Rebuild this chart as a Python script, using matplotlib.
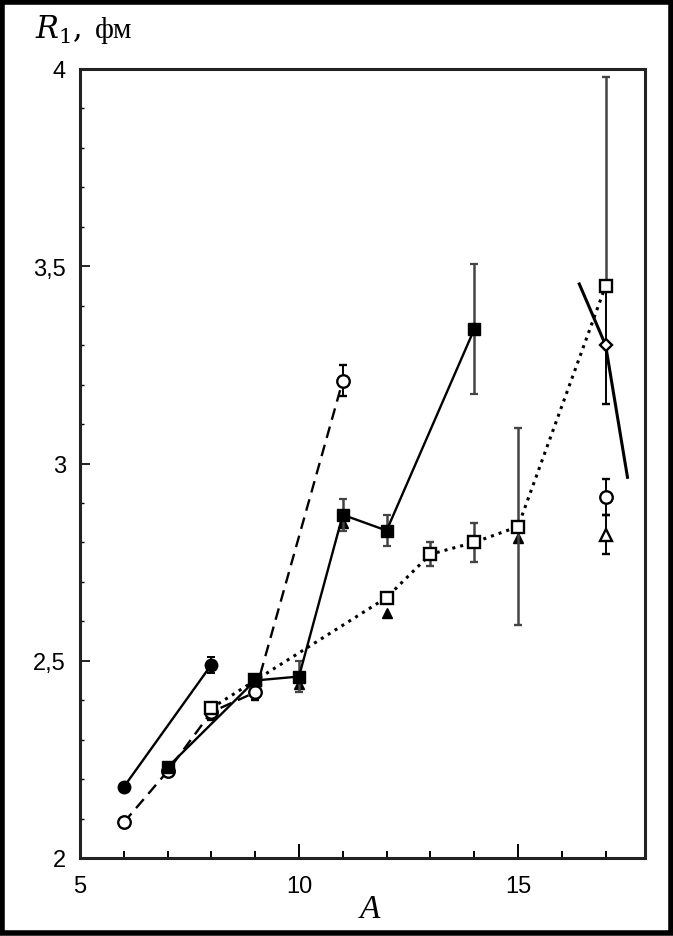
import matplotlib
matplotlib.use("Agg")
import matplotlib.pyplot as plt
from matplotlib.ticker import MultipleLocator, FuncFormatter
from matplotlib.patches import Rectangle

# ---- data ----
# filled circles, solid line
he_A = [6, 8]
he_R = [2.18, 2.49]
he_err = [0.0, 0.02]

# open circles, dashed line
li_A = [6, 7, 8, 9, 11]
li_R = [2.09, 2.22, 2.37, 2.42, 3.21]
li_err = [0.0, 0.0, 0.02, 0.02, 0.04]

# filled squares, solid line
be_A = [7, 9, 10, 11, 12, 14]
be_R = [2.23, 2.45, 2.46, 2.87, 2.83, 3.34]
be_err = [0.0, 0.0, 0.04, 0.04, 0.04, 0.165]

# open squares, dotted line
b_A = [8, 9, 12, 13, 14, 15, 17]
b_R = [2.38, 2.45, 2.66, 2.77, 2.80, 2.84, 3.45]
b_err_lo = [0.0, 0.0, 0.0, 0.03, 0.05, 0.25, 0.0]
b_err_hi = [0.0, 0.0, 0.0, 0.03, 0.05, 0.25, 0.53]

# filled triangles (no line)
tri_A = [8, 10, 11, 12, 15]
tri_R = [2.37, 2.44, 2.85, 2.62, 2.81]

# solid line with open diamond near A = 17
line17_A = [16.4, 17, 17.5]
line17_R = [3.455, 3.30, 2.965]
dia_A = [17]
dia_R = [3.30]
dia_err = [0.15]

# open circle and open triangle at A = 17
oc17_A = [17]
oc17_R = [2.915]
oc17_err = [0.045]
ot17_A = [17]
ot17_R = [2.82]
ot17_err = [0.05]

# ---- figure ----
W, H = 673, 937
fig = plt.figure(figsize=(W / 100, H / 100), dpi=100)
ax = fig.add_axes([80 / W, 1 - 859 / H, (645 - 80) / W, (859 - 70) / H])

ms = 9
eb = dict(ecolor='black', elinewidth=1.4, capsize=3, capthick=1.4)

ax.errorbar(he_A, he_R, yerr=he_err, fmt='o-', color='black', ms=ms,
            lw=1.7, **eb, zorder=4)
ax.errorbar(li_A, li_R, yerr=li_err, fmt='o--', color='black', ms=ms,
            mfc='white', mew=1.7, lw=1.7, dashes=(5, 3), **eb, zorder=3)
ax.errorbar(be_A, be_R, yerr=be_err, fmt='s-', color='black', ms=ms,
            lw=1.7, ecolor='#444444', elinewidth=1.8, capsize=3, capthick=1.6,
            zorder=5)
ax.errorbar(b_A, b_R, yerr=[b_err_lo, b_err_hi], fmt='s:', color='black',
            ms=ms, mfc='white', mew=1.7, lw=2.2, ecolor='#444444',
            elinewidth=1.8, capsize=3, capthick=1.6, zorder=4)
ax.plot(tri_A, tri_R, '^', color='black', ms=7, zorder=3)
ax.plot(line17_A, line17_R, '-', color='black', lw=2.2, zorder=3)
ax.errorbar(dia_A, dia_R, yerr=dia_err, fmt='D', color='black', ms=6,
            mfc='white', mew=1.7, **eb, zorder=4)
ax.errorbar(oc17_A, oc17_R, yerr=oc17_err, fmt='o', color='black', ms=ms,
            mfc='white', mew=1.7, **eb, zorder=4)
ax.errorbar(ot17_A, ot17_R, yerr=ot17_err, fmt='^', color='black', ms=ms,
            mfc='white', mew=1.7, **eb, zorder=4)

ax.set_xlim(5, 17.9)
ax.set_ylim(2, 4)
ax.xaxis.set_major_locator(MultipleLocator(5))
ax.xaxis.set_minor_locator(MultipleLocator(1))
ax.yaxis.set_major_locator(MultipleLocator(0.5))
ax.yaxis.set_minor_locator(MultipleLocator(0.1))
ax.yaxis.set_major_formatter(FuncFormatter(
    lambda v, p: ('%g' % v).replace('.', ',')))
ax.tick_params(which='both', direction='in', top=False, right=False,
               labelsize=17, color='black')
ax.tick_params(which='major', axis='x', length=10, width=1.4, pad=12)
ax.tick_params(which='minor', axis='x', length=5, width=1.4)
ax.tick_params(which='major', axis='y', length=7, width=1.2, pad=10)
ax.tick_params(which='minor', axis='y', length=3, width=1.0)
for lab in ax.get_xticklabels() + ax.get_yticklabels():
    lab.set_fontfamily('Liberation Sans')
for s in ax.spines.values():
    s.set_linewidth(2.2)
    s.set_color('#222222')

fig.text(35 / W, 1 - 30 / H, r'$R_1$,', fontsize=22, family='DejaVu Serif',
         math_fontfamily='dejavuserif', ha='left', va='center')
fig.text(95 / W, 1 - 30 / H, 'фм', fontsize=21, family='Liberation Serif',
         ha='left', va='center')
fig.text(370 / W, 1 - 910 / H, 'A', fontsize=24, family='Liberation Serif',
         style='italic', ha='center', va='center')

# outer black frame
fig.patches.append(Rectangle((0.003, 0.003), 0.994, 0.994,
                             transform=fig.transFigure, fill=False,
                             lw=4, ec='black'))

fig.savefig('out.png', dpi=100)
